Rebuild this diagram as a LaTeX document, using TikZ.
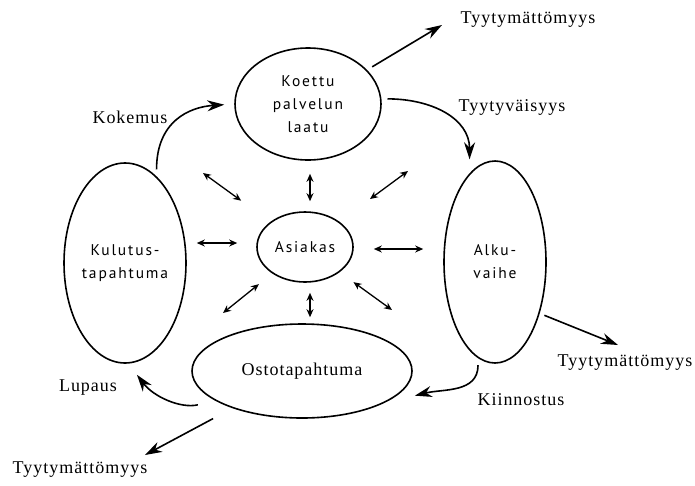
\documentclass[tikz,border=0pt]{standalone}
\usepackage{fontspec}
\setmainfont{Liberation Serif}
\newfontfamily\labfont[LetterSpace=5.5]{Liberation Serif}
\newfontfamily\elfont[LetterSpace=12]{PT Sans}
\usetikzlibrary{shapes.geometric,arrows.meta,calc}
\begin{document}
\begin{tikzpicture}[x=1pt,y=-1pt,
  ell/.style={draw, ellipse, line width=1.6pt, inner sep=0pt, align=center,
              font={\elfont\fontsize{15.5}{23}\selectfont}},
  lab/.style={inner sep=0pt, font={\labfont\fontsize{18}{20}\selectfont}},
  big/.style={line width=1.6pt, -{Stealth[length=17pt,width=11pt]}},
  dbl/.style={line width=1.3pt, {Stealth[length=8pt,width=7pt]}-{Stealth[length=8pt,width=7pt]}}]
\fill[white] (0,0) rectangle (695,485);
\useasboundingbox (0,0) rectangle (695,485);

% ellipses
\node[ell, minimum width=146pt, minimum height=112pt] (top) at (308,104) {Koettu\\palvelun\\laatu};
\node[ell, minimum width=96pt, minimum height=70pt] (asi) at (305,247) {Asiakas};
\node[ell, minimum width=106pt, minimum height=200pt] (left) at (125,263) {Kulutus-\\tapahtuma};
\node[ell, minimum width=102pt, minimum height=202pt] (right) at (495,262) {Alku-\\vaihe};
\node[ell, font={\labfont\fontsize{18}{20}\selectfont}, minimum width=220pt, minimum height=94pt] (bot) at (302,371) {Ostotapahtuma};

% labels
\node[lab] (t1) at (528,20) {Tyytymättömyys};
\node[lab] (tv) at (512,107) {Tyytyväisyys};
\node[lab] (kok) at (130,117) {Kokemus};
\node[lab] (lup) at (88,388) {Lupaus};
\node[lab] (kii) at (521,400) {Kiinnostus};
\node[lab] (t2) at (625,363) {Tyytymättömyys};
\node[lab] (t3) at (80,470) {Tyytymättömyys};

% free ends
\coordinate (t1tip) at (442,25);
\coordinate (t2tip) at (618,345);
\coordinate (t3tip) at (145,455);
\coordinate (ul) at (203,173);
\coordinate (ur) at (408,171);
\coordinate (ll) at (223,313);
\coordinate (lr) at (392,310);

% cycle arrows
\draw[big, shorten <=7pt, shorten >=10pt] (left.70) .. controls +(0,-55) and +(-45,3) .. (top.west);
\draw[big, shorten <=6pt, shorten >=14pt] (top.4) .. controls +(50,0) and +(0,-55) .. (right.106);
\draw[big, shorten <=7pt, shorten >=33pt] (right.260) .. controls +(0,35) and +(60,-15) .. (bot.-22);
\draw[big, shorten <=18pt, shorten >=14pt] (bot.199) .. controls +(-35,8) and +(25,33) .. (left.-88);

% dissatisfaction arrows
\draw[big, shorten <=6pt] (top.30) -- (t1tip);
\draw[big, shorten <=5pt] (right.-49) -- (t2tip);
\draw[big, shorten <=22pt] (bot) -- (t3tip);

% double arrows around Asiakas
\path ([xshift=5pt]asi.north) coordinate (aN);
\path ([xshift=5pt]asi.south) coordinate (aS);
\path ([yshift=4pt]asi.west) coordinate (aW);
\path ([yshift=-2pt]asi.east) coordinate (aE);
\draw[dbl, shorten <=10pt, shorten >=13pt] (aN) -- (aN |- top.south);
\draw[dbl, shorten <=10pt, shorten >=6pt] (aS) -- (aS |- bot.north);
\draw[dbl, shorten <=19pt, shorten >=10pt] (aW) -- (aW -| left.east);
\draw[dbl, shorten <=20pt, shorten >=20pt] (aE) -- (aE -| right.west);
\draw[dbl, shorten <=36pt] (asi) -- (ul);
\draw[dbl, shorten <=38pt] (asi) -- (ur);
\draw[dbl, shorten <=17pt] (asi) -- (ll);
\draw[dbl, shorten <=17pt] (asi) -- (lr);
\end{tikzpicture}
\end{document}
